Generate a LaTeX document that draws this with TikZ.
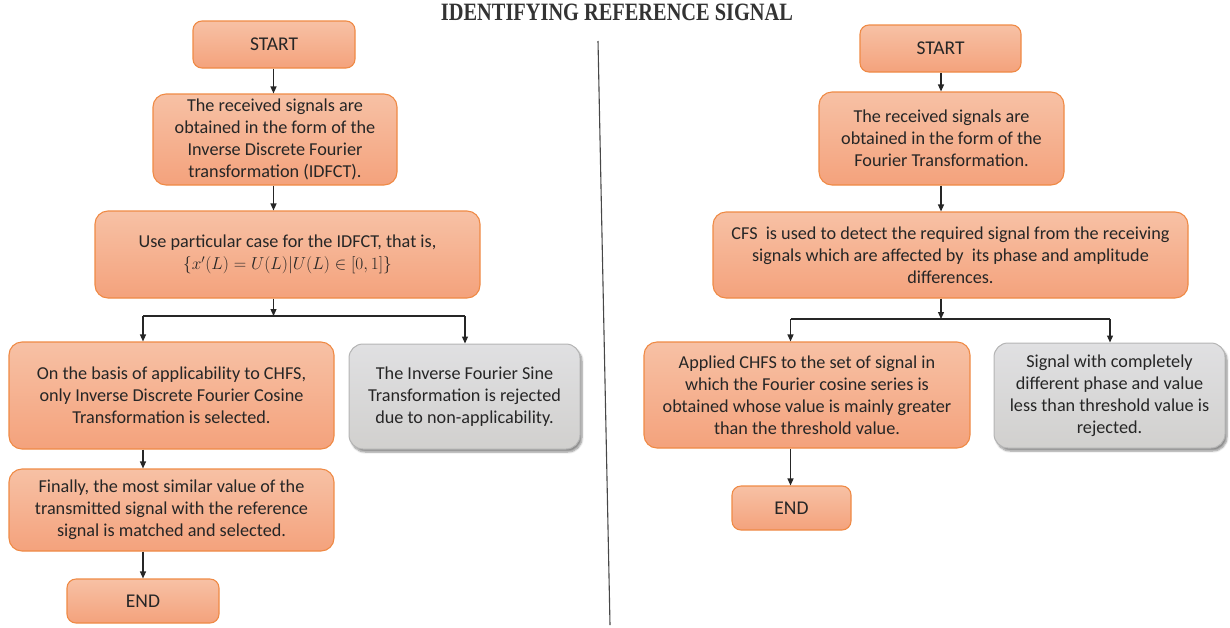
\documentclass[tikz,border=0pt]{standalone}
\usepackage{fontspec}
\setmainfont{Carlito}
\newfontfamily\titlefont{Liberation Serif}
\usetikzlibrary{arrows.meta,shadows.blur}

\definecolor{oTop}{HTML}{F7C1A5}
\definecolor{oBot}{HTML}{F4A27C}
\definecolor{oLine}{HTML}{EF8A45}
\definecolor{gTop}{HTML}{E0E0E2}
\definecolor{gBot}{HTML}{D1D0CE}
\definecolor{gLine}{HTML}{B4B4B4}
\definecolor{txt}{HTML}{262626}

\tikzset{
  body/.style={font=\fontsize{18.2pt}{22pt}\selectfont, text=txt, align=center, inner sep=0pt},
  obox/.style={body, draw=oLine, line width=1.1pt, top color=oTop, bottom color=oBot, rounded corners=13pt},
  termbox/.style={obox, rounded corners=9pt, font=\fontsize{19.5pt}{22pt}\selectfont},
  gbox/.style={body, draw=gLine, line width=1pt, top color=gTop, bottom color=gBot, rounded corners=14pt,
    blur shadow={shadow xshift=2pt, shadow yshift=-3pt, shadow blur steps=6, shadow opacity=45}},
  link/.style={draw=txt, line width=1.2pt},
  arr/.style={link, -{Triangle[length=7pt,width=6pt]}},
}

\begin{document}
\begin{tikzpicture}[x=1pt,y=-1pt]
\useasboundingbox (0,0) rectangle (1230,627);

% heading
\node (title) at (617,12) {\resizebox{352pt}{16.5pt}{\titlefont\bfseries\color[HTML]{333333}IDENTIFYING REFERENCE SIGNAL}};

% separator between the two procedures
\draw[line width=1.1pt, color=txt!85] (598,41) -- (610,625);

% ---------------- left procedure ----------------
\node[termbox, minimum width=162pt, minimum height=47pt] (ls) at (274,44.5) {START};
\node[obox, minimum width=244pt, minimum height=91pt] (l2) at (275,139.5)
  {The received signals are\\obtained in the form of the\\Inverse Discrete Fourier\\transformation (IDFCT).};
\node[obox, minimum width=385pt, minimum height=87pt] (l3) at (287.5,254.5)
  {Use particular case for the IDFCT, that is,\\$\{x'(L)=U(L)|U(L)\in[0,1]\}$};
\node[obox, minimum width=325pt, minimum height=107pt] (l4) at (171.5,395.5)
  {On the basis of applicability to CHFS,\\only Inverse Discrete Fourier Cosine\\Transformation is selected.};
\node[gbox, minimum width=231pt, minimum height=105pt] (lg) at (464.5,396.5)
  {The Inverse Fourier Sine\\Transformation is rejected\\due to non-applicability.};
\node[obox, minimum width=325pt, minimum height=82pt] (l6) at (171.5,510)
  {Finally, the most similar value of the\\transmitted signal with the reference\\signal is matched and selected.};
\node[termbox, minimum width=152pt, minimum height=44pt] (le) at (143,601) {END};

\coordinate (lj) at (273.5,316);
\coordinate (ljL) at (143,316);
\coordinate (ljR) at (465,316);

\draw[arr] (ls.south -| lj) -- (l2.north -| lj);
\draw[arr] (l2.south -| lj) -- (l3.north -| lj);
\draw[arr] (l3.south -| lj) -- (lj);
\draw[link] (ljL) -- (ljR);
\draw[arr] (ljL) -- (l4.north -| ljL);
\draw[arr] (ljR) -- (lg.north -| ljR);
\draw[arr] (l4.south -| ljL) -- (l6.north -| ljL);
\draw[arr] (l6.south -| ljL) -- (le.north -| ljL);

% ---------------- right procedure ----------------
\node[termbox, minimum width=161pt, minimum height=47pt] (rs) at (940.5,48.5) {START};
\node[obox, minimum width=245pt, minimum height=93pt] (r2) at (941.5,138.5)
  {The received signals are\\obtained in the form of the\\Fourier Transformation.};
\node[obox, minimum width=475pt, minimum height=86pt] (r3) at (950.5,255)
  {CFS\ \ is used to detect the required signal from the receiving\\signals which are affected by\ \ its phase and amplitude\\differences.};
\node[obox, minimum width=326pt, minimum height=106pt] (r4) at (807,395)
  {Applied CHFS to the set of signal in\\which the Fourier cosine series is\\obtained whose value is mainly greater\\than the threshold value.};
\node[gbox, minimum width=231pt, minimum height=105pt] (rg) at (1109.5,395.5)
  {Signal with completely\\different phase and value\\less than threshold value is\\rejected.};
\node[termbox, minimum width=119pt, minimum height=44pt] (re) at (791.5,508) {END};

\coordinate (rj) at (941,319);
\coordinate (rjL) at (790.5,319);
\coordinate (rjR) at (1110,319);

\draw[arr] (rs.south -| rj) -- (r2.north -| rj);
\draw[arr] (r2.south -| rj) -- (r3.north -| rj);
\draw[arr] (r3.south -| rj) -- (rj);
\draw[link] (rjL) -- (rjR);
\draw[arr] (rjL) -- (r4.north -| rjL);
\draw[arr] (rjR) -- (rg.north -| rjR);
\draw[arr] (r4.south -| rjL) -- (re.north -| rjL);
\end{tikzpicture}
\end{document}
